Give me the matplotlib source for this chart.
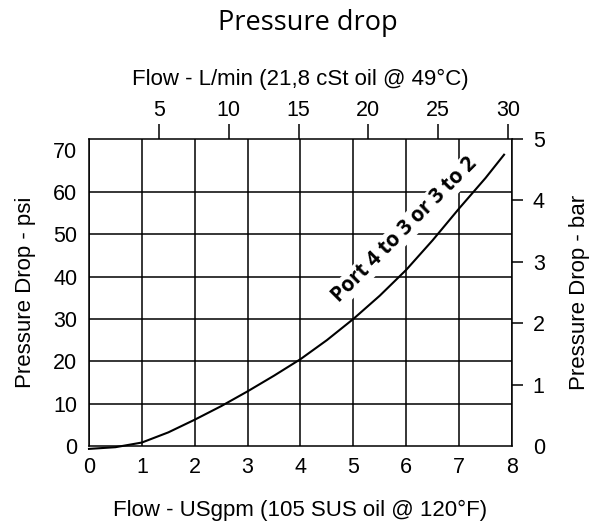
import matplotlib
matplotlib.use("Agg")
import matplotlib.pyplot as plt

# flow in USgpm and pressure drop in psi
flow_gpm = [0, 0.5, 1, 1.5, 2, 2.5, 3, 3.5, 4, 4.5, 5, 5.5, 6, 6.5, 7, 7.5, 7.85]
drop_psi = [-0.7, -0.3, 0.8, 3.2, 6.2, 9.4, 12.9, 16.6, 20.5, 25.0, 30.0, 35.5, 41.6, 48.6, 56.1, 63.3, 68.8]

gpm_ticks = [0, 1, 2, 3, 4, 5, 6, 7, 8]
psi_ticks = [0, 10, 20, 30, 40, 50, 60, 70]
lpm_ticks = [5, 10, 15, 20, 25, 30]
bar_ticks = [0, 1, 2, 3, 4, 5]

LPM_PER_GPM = 3.785
PSI_PER_BAR = 14.5038

plt.rcParams['font.family'] = ['Liberation Sans', 'DejaVu Sans']

fig = plt.figure(figsize=(5.91, 5.24), dpi=100)
ax = fig.add_axes([0.1506, 0.149, 0.7157, 0.5858])

ax.plot(flow_gpm, drop_psi, color='black', lw=1.5, clip_on=False, zorder=3)

ax.set_xlim(0, 8)
ax.set_ylim(0, 5 * PSI_PER_BAR)
ax.set_xticks(gpm_ticks)
ax.set_yticks(psi_ticks)
ax.grid(axis='x', color='black', lw=1.1)
for v in psi_ticks[1:-1]:
    ax.axhline(v, color='black', lw=1.1, zorder=1)
for s in ax.spines.values():
    s.set_linewidth(1.1)
ax.tick_params(axis='both', length=0, labelsize=15.5)
ax.tick_params(axis='y', pad=8.5)
ax.tick_params(axis='x', pad=8)
ax.set_xlabel('Flow - USgpm (105 SUS oil @ 120°F)', fontsize=16, labelpad=16)
ax.set_ylabel('Pressure Drop - psi', fontsize=16, labelpad=12)

# top axis: same flow in L/min
top = ax.secondary_xaxis('top', functions=(lambda x: x * LPM_PER_GPM, lambda x: x / LPM_PER_GPM))
top.set_xticks(lpm_ticks)
top.tick_params(length=11, width=1.1, labelsize=15.5, pad=2)
top.spines['top'].set_visible(False)
top.set_xlabel('Flow - L/min (21,8 cSt oil @ 49°C)', fontsize=16, labelpad=11)

# right axis: pressure in bar
right = ax.secondary_yaxis('right', functions=(lambda y: y / PSI_PER_BAR, lambda y: y * PSI_PER_BAR))
right.set_yticks(bar_ticks)
right.tick_params(length=8, width=1.1, labelsize=15.5, pad=7)
right.spines['right'].set_visible(False)
t0 = right.yaxis.get_major_ticks()[0]
t0.tick1line.set_visible(False)
t0.tick2line.set_visible(False)
right.set_ylabel('Pressure Drop - bar', fontsize=16, labelpad=17)

ax.text(5.97, 51.0, 'Port 4 to 3 or 3 to 2', rotation=45, rotation_mode='anchor',
        ha='center', va='center', fontsize=15, fontweight='bold', zorder=2,
        family=['Open Sans', 'DejaVu Sans'],
        bbox=dict(facecolor='white', edgecolor='none', pad=1))

fig.text(0.521, 0.982, 'Pressure drop', fontsize=19.5, ha='center', va='top',
         family=['Open Sans', 'DejaVu Sans'])

fig.savefig('out.png', dpi=100)
